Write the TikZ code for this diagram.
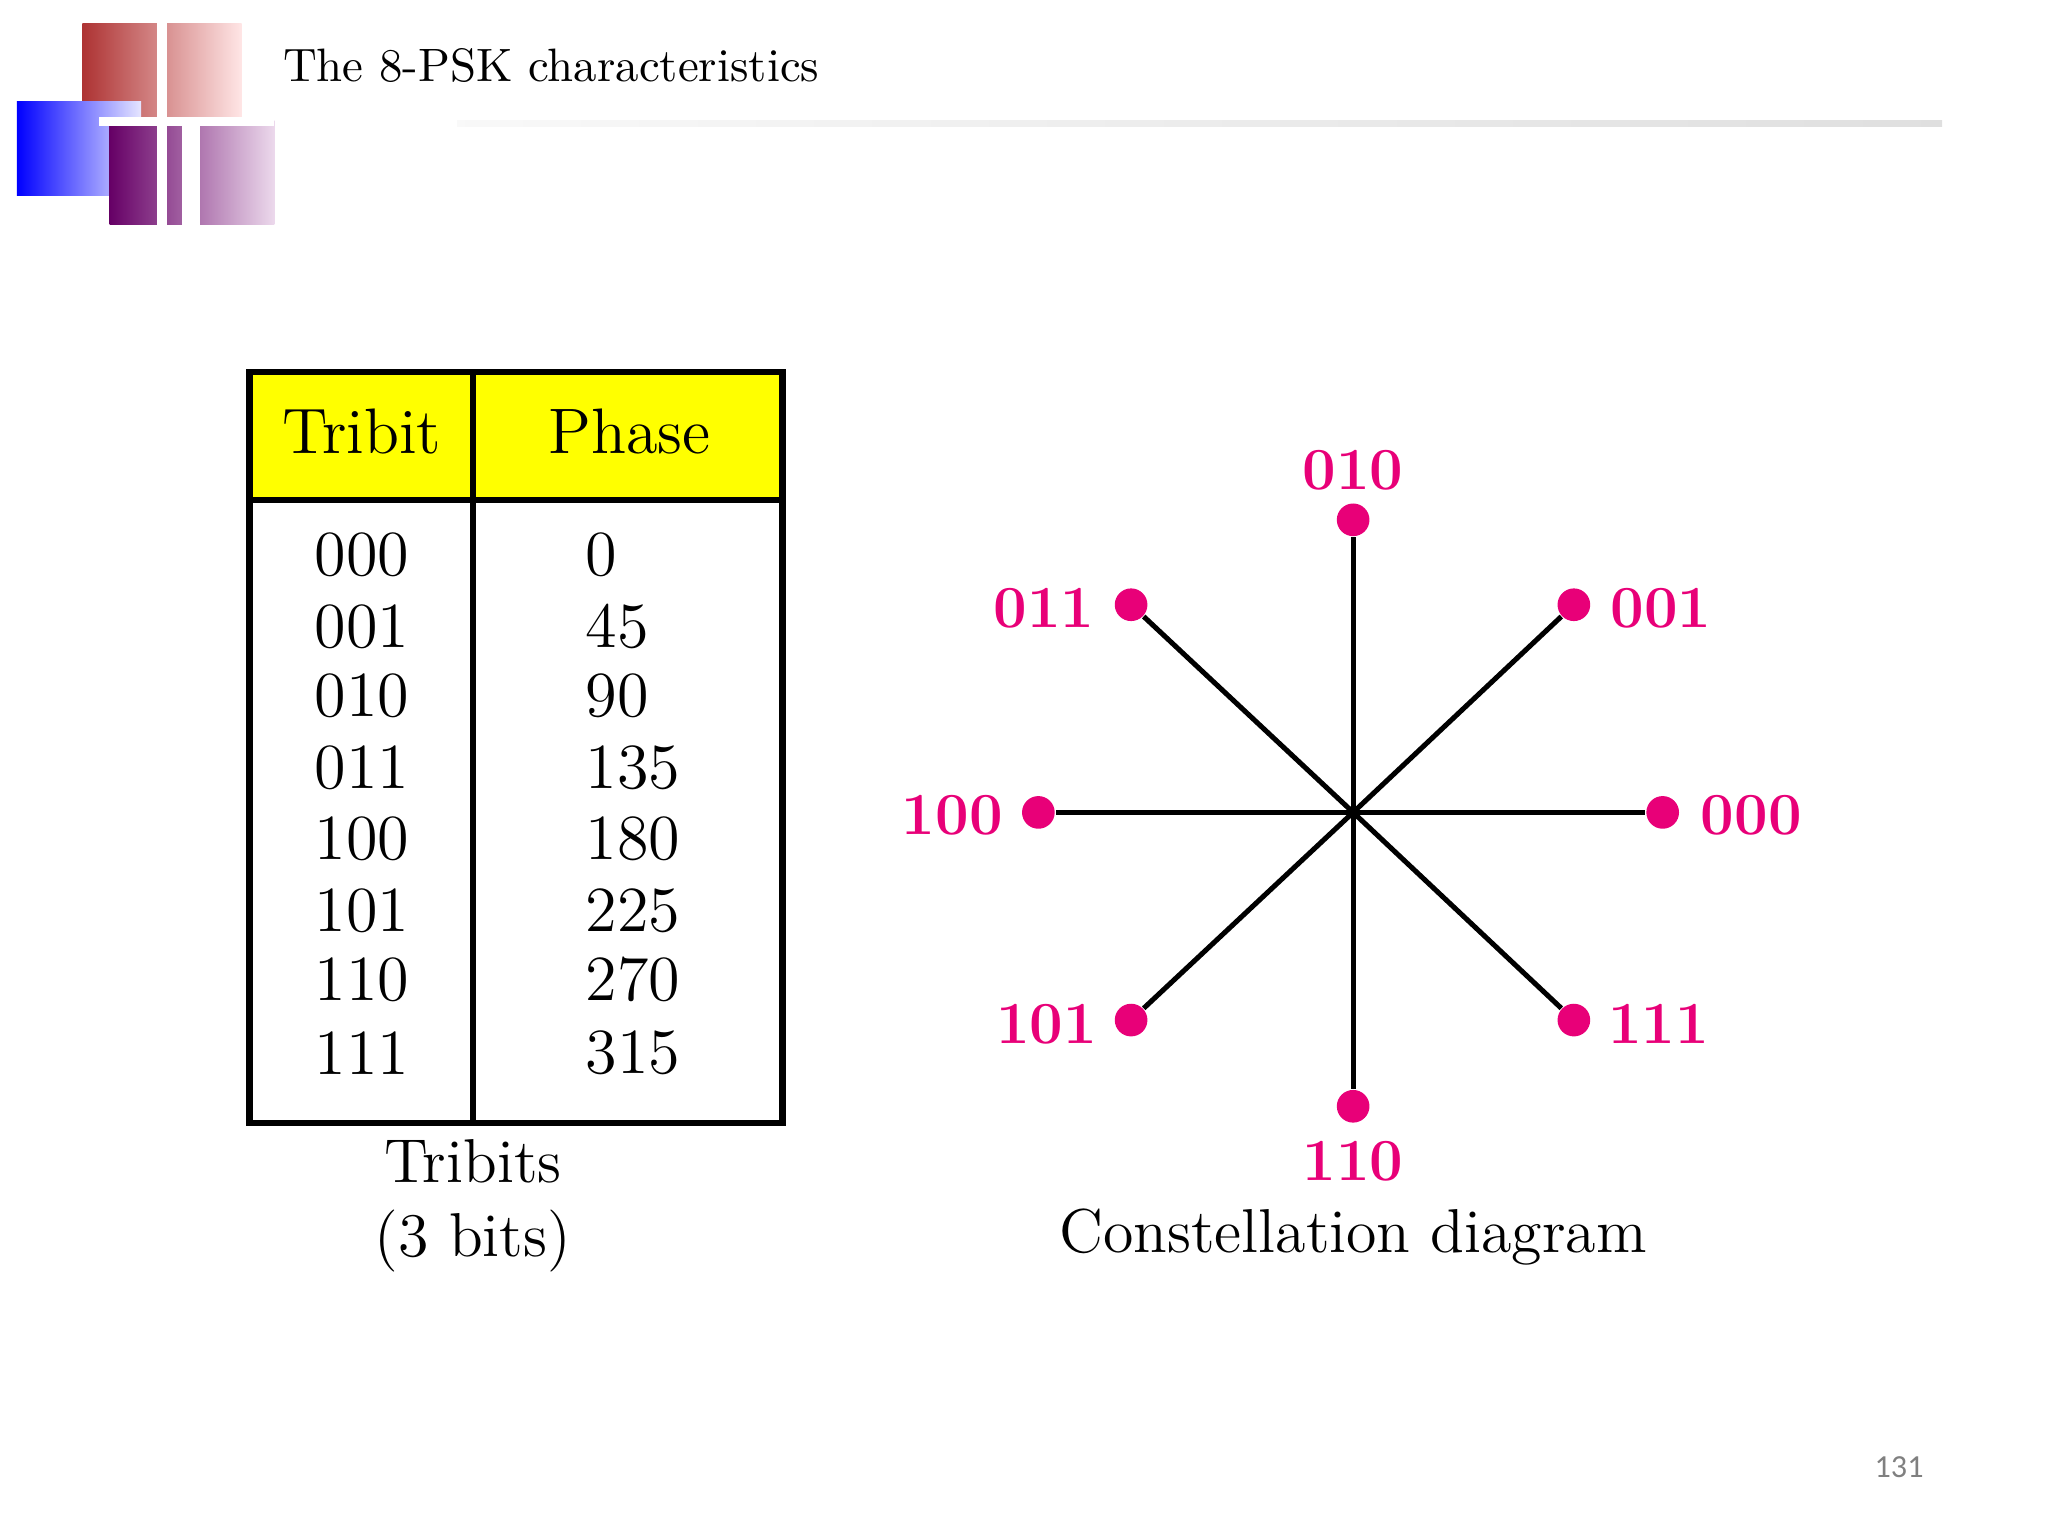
\documentclass[tikz,border=0pt]{standalone}
\usepackage{fontspec}
\newfontfamily\pgfont{Carlito}
\definecolor{mag}{RGB}{232,0,120}
\definecolor{ylw}{RGB}{255,255,0}
\begin{document}
\begin{tikzpicture}[x=0.01cm,y=-0.01cm,
  cell/.style={font=\fontsize{14}{16}\selectfont},
  lab/.style={text=mag,font=\fontsize{13}{15}\selectfont\bfseries,inner sep=1pt},
  dot/.style={circle,fill=mag,inner sep=0pt,minimum size=0.25cm},
  spoke/.style={line width=1.1pt}]
\useasboundingbox (0,0) rectangle (1568,1176);
% decoration
\shade[left color=red!60!black!80,right color=red!10] (63,18) rectangle (185,92);
\shade[left color=blue,right color=blue!10] (13,78) rectangle (108,150);
\shade[left color=violet!80!black,right color=violet!15] (84,92) rectangle (210,172);
\draw[white,line width=2pt] (124,0) -- (124,180);
\draw[white,line width=2pt] (76,93) -- (210,93);
\draw[white,line width=4pt] (146,92) -- (146,172);
\shade[left color=gray!5,right color=gray!25] (350,92) rectangle (1487,97);
\node[node font=\fontsize{10.2}{12}\selectfont,anchor=west,inner sep=0pt] (title) at (216,50) {The 8-PSK characteristics};
% table
\fill[ylw] (191,285) rectangle (599,383);
\draw[line width=1.4pt] (191,285) rectangle (599,860);
\draw[line width=1.4pt] (362,285) -- (362,860);
\draw[line width=1.4pt] (191,383) -- (599,383);
\node[cell] (h1) at (277,330) {Tribit};
\node[cell] (h2) at (482,330) {Phase};
\foreach \t/\p/\y [count=\i] in {000/0/425,001/45/480,010/90/533,011/135/588,100/180/642,101/225/697,110/270/750,111/315/806}{
  \node[cell] (t\i) at (277,\y) {\t};
  \node[cell,anchor=west] (p\i) at (436,\y) {\p};
}
\node[cell,align=center,font=\fontsize{13.5}{16}\selectfont] (cap1) at (362,923) {Tribits\\(3 bits)};
% constellation
\coordinate (c) at (1036,622);
\node[dot] (d0) at (1273,622) {};
\node[dot] (d45) at (1205,463) {};
\node[dot] (d90) at (1036,398) {};
\node[dot] (d135) at (866,463) {};
\node[dot] (d180) at (795,622) {};
\node[dot] (d225) at (866,781) {};
\node[dot] (d270) at (1036,847) {};
\node[dot] (d315) at (1205,781) {};
\foreach \a in {0,45,90,135,180,225,270,315}{\draw[spoke] (c) -- (d\a);}
\node[lab,anchor=west] at (1298,624) {000};
\node[lab,anchor=west] at (1229,466) {001};
\node[lab] at (1036,360) {010};
\node[lab,anchor=east] at (842,466) {011};
\node[lab,anchor=east] at (772,624) {100};
\node[lab,anchor=east] at (844,784) {101};
\node[lab] at (1036,889) {110};
\node[lab,anchor=west] at (1227,784) {111};
\node[cell,font=\fontsize{13.5}{16}\selectfont] (cap2) at (1036,947) {Constellation diagram};
\node[text=gray,font=\pgfont\fontsize{7}{8}\selectfont] (pg) at (1454,1123) {131};
\end{tikzpicture}
\end{document}
